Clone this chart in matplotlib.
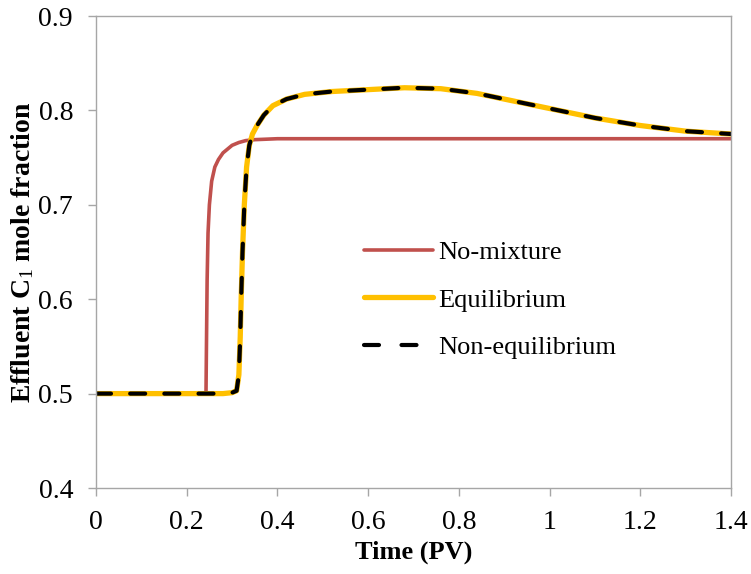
import matplotlib
matplotlib.use("Agg")
import matplotlib.pyplot as plt
from matplotlib.lines import Line2D

# ---- data ----
x_nomix = [0, 0.1, 0.2, 0.2425, 0.2435, 0.245, 0.247, 0.25, 0.255, 0.262, 0.27,
           0.28, 0.29, 0.30, 0.315, 0.33, 0.35, 0.4, 0.6, 1.0, 1.4]
y_nomix = [0.5, 0.5, 0.5, 0.5, 0.55, 0.62, 0.67, 0.70, 0.725, 0.740, 0.748,
           0.755, 0.759, 0.763, 0.766, 0.768, 0.769, 0.770, 0.770, 0.770, 0.770]

x_eq = [0, 0.1, 0.2, 0.25, 0.28, 0.30, 0.31, 0.315, 0.318, 0.320, 0.323, 0.327,
        0.332, 0.338, 0.345, 0.355, 0.37, 0.39, 0.42, 0.46, 0.52, 0.6, 0.68,
        0.76, 0.84, 0.92, 1.0, 1.1, 1.2, 1.3, 1.4]
y_eq = [0.5, 0.5, 0.5, 0.5, 0.5, 0.501, 0.503, 0.52, 0.56, 0.60, 0.65, 0.70,
        0.74, 0.763, 0.775, 0.784, 0.795, 0.805, 0.812, 0.817, 0.820, 0.822, 0.824,
        0.823, 0.818, 0.810, 0.802, 0.792, 0.784, 0.778, 0.775]

x_noneq = list(x_eq)
y_noneq = list(y_eq)

x_ticks = [0, 0.2, 0.4, 0.6, 0.8, 1.0, 1.2, 1.4]
x_ticklabels = ["0", "0.2", "0.4", "0.6", "0.8", "1", "1.2", "1.4"]
y_ticks = [0.4, 0.5, 0.6, 0.7, 0.8, 0.9]
y_ticklabels = ["0.4", "0.5", "0.6", "0.7", "0.8", "0.9"]

labels = ["No-mixture", "Equilibrium", "Non-equilibrium"]

# ---- style ----
plt.rcParams["font.family"] = ["Liberation Serif", "DejaVu Serif"]
plt.rcParams["mathtext.fontset"] = "custom"
plt.rcParams["mathtext.rm"] = "Liberation Serif"
plt.rcParams["mathtext.it"] = "Liberation Serif:italic"
plt.rcParams["mathtext.bf"] = "Liberation Serif:bold"

fig = plt.figure(figsize=(7.51, 5.74), dpi=100)
ax = fig.add_axes([96/751, 1-488/574, (731-96)/751, (488-16)/574])

spine_c = "#A6A6A6"
red_c, yel_c = "#C0504D", "#FFC000"
l1, = ax.plot(x_nomix, y_nomix, color=red_c, lw=2.6, solid_capstyle="butt",
              solid_joinstyle="round", label=labels[0])
l2, = ax.plot(x_eq, y_eq, color=yel_c, lw=3.8, solid_joinstyle="round",
              label=labels[1])
l3, = ax.plot(x_noneq, y_noneq, color="black", lw=3.0, dashes=(3.6, 4.6),
              dash_capstyle="round", label=labels[2])

ax.set_xlim(0, 1.4)
ax.set_ylim(0.4, 0.9)
ax.set_xticks(x_ticks)
ax.set_xticklabels(x_ticklabels)
ax.set_yticks(y_ticks)
ax.set_yticklabels(y_ticklabels)

for s in ax.spines.values():
    s.set_color(spine_c)
    s.set_linewidth(1.0)

ax.tick_params(axis="both", direction="out", length=6, width=1.0, color=spine_c,
               labelsize=20, pad=10.5)
ax.tick_params(axis="x", pad=10)

ax.set_xlabel("Time (PV)", fontsize=19, fontweight="bold", labelpad=4)
ax.set_ylabel(r"Effluent C$_{\mathrm{1}}$ mole fraction", fontsize=20,
              fontweight="bold", labelpad=2)

# legend proxies (same styles; dash pattern tuned so the handle shows two dashes)
h1 = Line2D([], [], color=red_c, lw=2.6, solid_capstyle="round")
h2 = Line2D([], [], color=yel_c, lw=3.8, solid_capstyle="round")
h3 = Line2D([], [], color="black", lw=3.0, dashes=(3.6, 5.4), dash_capstyle="round")

leg = fig.legend(handles=[h1, h2, h3], labels=labels, loc="upper left",
                 bbox_to_anchor=(364/751, 1-241/574), frameon=False,
                 fontsize=19, handlelength=2.6, handletextpad=0.2,
                 labelspacing=0.9, borderpad=0, borderaxespad=0)

fig.savefig("out.png", dpi=100)
